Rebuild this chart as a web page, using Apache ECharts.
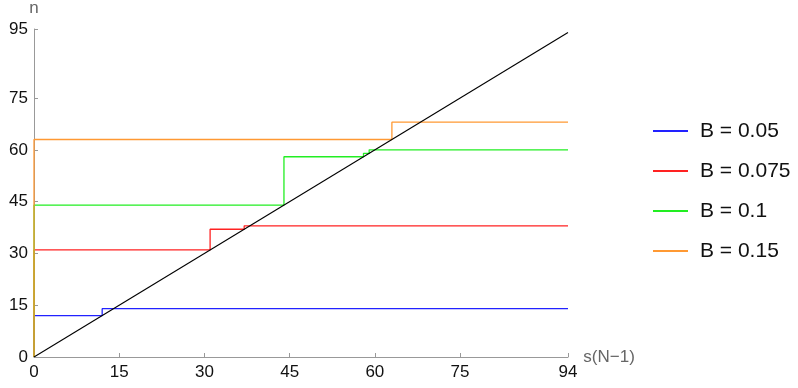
<!DOCTYPE html>
<html><head><meta charset="utf-8">
<script src="https://cdn.jsdelivr.net/npm/echarts@6/dist/echarts.min.js"></script>
<style>html,body{margin:0;padding:0;background:#fff}#c{width:798px;height:388px}</style>
</head><body><div id="c"></div>
<script>
const xTicks = [0, 15, 30, 45, 60, 75, 94];
const yTicks = [0, 15, 30, 45, 60, 75, 95];
const seriesNames = ['B = 0.05', 'B = 0.075', 'B = 0.1', 'B = 0.15'];
const seriesColors = ['#2222ff', '#ff2222', '#22ee22', '#ff9933'];
// step curves: s(N-1) values and n values
const b005X = [0, 0, 12, 12, 94];
const b005Y = [0, 12, 12, 14, 14];
const b0075X = [0, 0, 31, 31, 37, 37, 94];
const b0075Y = [0, 31, 31, 37, 37, 38, 38];
const b01X = [0, 0, 44, 44, 58, 58, 59, 59, 94];
const b01Y = [0, 44, 44, 58, 58, 59, 59, 60, 60];
const b015X = [0, 0, 63, 63, 94];
const b015Y = [0, 63, 63, 68, 68];
const diagX = [0, 94];
const diagY = [0, 94];

const zip = (xs, ys) => xs.map((x, i) => [x, ys[i]]);
const stepData = [zip(b005X, b005Y), zip(b0075X, b0075Y), zip(b01X, b01Y), zip(b015X, b015Y)];

const chart = echarts.init(document.getElementById('c'), null, {renderer: 'canvas'});
const font = 'Liberation Sans, Arial, sans-serif';
const series = stepData.map((d, i) => ({
  name: seriesNames[i], type: 'line', data: d, showSymbol: false, symbol: 'none',
  lineStyle: {color: seriesColors[i], width: 1.3}, itemStyle: {color: seriesColors[i]},
  emphasis: {disabled: true}, animation: false, z: 2
}));
series.push({
  name: 'diag', type: 'line', data: zip(diagX, diagY), showSymbol: false, symbol: 'none',
  lineStyle: {color: '#000', width: 1.1}, emphasis: {disabled: true}, animation: false, z: 3
});
chart.setOption({
  backgroundColor: '#fff',
  animation: false,
  grid: {left: 34, right: 230, top: 28, bottom: 31, containLabel: false},
  legend: {
    orient: 'vertical', left: 653, top: 120, padding: 0, itemWidth: 35, itemHeight: 2, itemGap: 18,
    icon: 'rect', data: seriesNames, selectedMode: false,
    textStyle: {fontFamily: font, fontSize: 21, lineHeight: 22, color: '#111', padding: [0, 0, 0, 7]}
  },
  xAxis: {
    type: 'value', min: 0, max: 94,
    name: 's(N\u22121)', nameLocation: 'end', nameGap: 15,
    nameTextStyle: {fontFamily: font, fontSize: 17, color: '#666', verticalAlign: 'middle', padding: [8, 0, 0, 0]},
    axisLine: {show: true, lineStyle: {color: '#999', width: 1}},
    axisTick: {show: true, inside: true, length: 4, lineStyle: {color: '#999'}, customValues: xTicks},
    axisLabel: {fontFamily: font, fontSize: 17, color: '#111', margin: 7, customValues: xTicks},
    splitLine: {show: false}
  },
  yAxis: {
    type: 'value', min: 0, max: 95,
    name: 'n', nameLocation: 'end', nameGap: 12,
    nameTextStyle: {fontFamily: font, fontSize: 17, color: '#666'},
    axisLine: {show: true, lineStyle: {color: '#999', width: 1}},
    axisTick: {show: true, inside: true, length: 4, lineStyle: {color: '#999'}, customValues: yTicks},
    axisLabel: {fontFamily: font, fontSize: 17, color: '#111', margin: 6, customValues: yTicks},
    splitLine: {show: false}
  },
  series: series
});
</script></body></html>
